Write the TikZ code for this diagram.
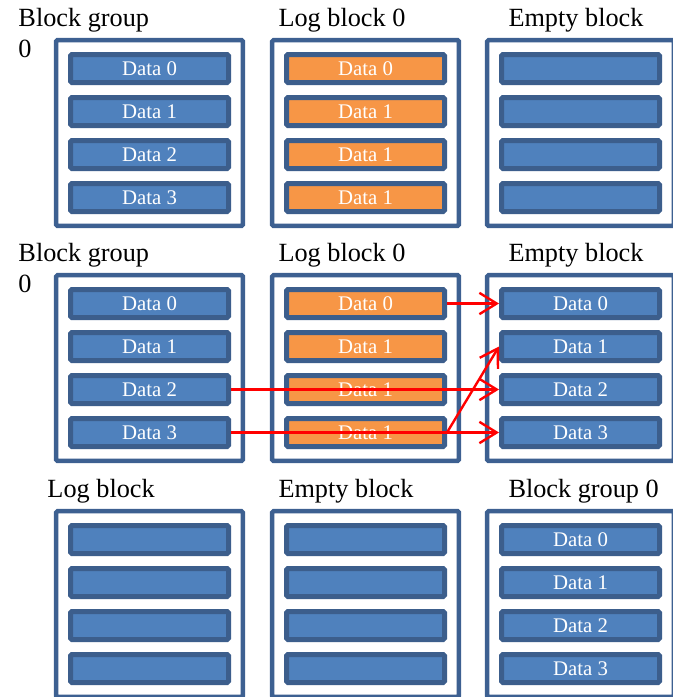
\documentclass[tikz,border=0pt]{standalone}
\usepackage{fontspec}
\setmainfont{Liberation Serif}
\usetikzlibrary{arrows.meta}

\definecolor{framecol}{RGB}{61,96,145}
\definecolor{barline}{RGB}{60,94,140}
\definecolor{barfill}{RGB}{79,129,189}
\definecolor{logfill}{RGB}{247,150,70}
\definecolor{arrowred}{RGB}{255,0,0}

\tikzset{every picture/.style={line width=0.75pt}}

\begin{document}
\begin{tikzpicture}[x=0.75pt,y=0.75pt,yscale=-1,xscale=1,
  frame/.style={draw=framecol,line width=3.4pt,fill=white,rounded corners=1pt,
    minimum width=140pt,minimum height=139.2pt,inner sep=0pt},
  databar/.style={draw=barline,line width=3.75pt,fill=barfill,rounded corners=1pt,
    minimum width=118.5pt,minimum height=21pt,inner sep=0pt,text=white,
    font=\fontsize{15.6}{18}\selectfont},
  logbar/.style={databar,fill=logfill},
  title/.style={anchor=base west,inner sep=0pt,align=left,
    font=\fontsize{19.7}{23.25}\selectfont},
  move/.style={draw=arrowred,line width=1.8pt,-{Straight Barb[length=13pt,width=16pt,line width=1.8pt]}}]
\useasboundingbox (0,0) rectangle (673,697);

% Row 1: before the merge
\node[title] (t11) at (18,57) {Block group\\0};
\node[title] (t12) at (278,26) {Log block 0};
\node[title] (t13) at (508,26) {Empty block};
\node[frame] (f11) at (149.5,133) {};
\node[frame] (f12) at (365.5,133) {};
\node[frame] (f13) at (580.5,133) {};
\foreach \i in {0,1,2,3}
  \node[databar] (r1c1b\i) at (149.5,{68.5+43*\i}) {Data \i};
\foreach \i/\t in {0/0,1/1,2/1,3/1}
  \node[logbar] (r1c2b\i) at (365.5,{68.5+43*\i}) {Data \t};
\foreach \i in {0,1,2,3}
  \node[databar] (r1c3b\i) at (580.5,{68.5+43*\i}) {};

% Row 2: copy into the empty block
\node[title] (t21) at (18,292) {Block group\\0};
\node[title] (t22) at (278,261) {Log block 0};
\node[title] (t23) at (508,261) {Empty block};
\node[frame] (f21) at (149.5,368) {};
\node[frame] (f22) at (365.5,368) {};
\node[frame] (f23) at (580.5,368) {};
\foreach \i in {0,1,2,3}
  \node[databar] (r2c1b\i) at (149.5,{303.5+43*\i}) {Data \i};
\foreach \i/\t in {0/0,1/1,2/1,3/1}
  \node[logbar] (r2c2b\i) at (365.5,{303.5+43*\i}) {Data \t};
\foreach \i in {0,1,2,3}
  \node[databar] (r2c3b\i) at (580.5,{303.5+43*\i}) {Data \i};

% Arrows
\draw[move] (r2c2b0.east) -- (r2c3b0.west);
\draw[move] (r2c2b3.east) -- (r2c3b1.west);
\draw[move] (r2c1b2.east) -- (r2c3b2.west);
\draw[move] (r2c1b3.east) -- (r2c3b3.west);

% Row 3: after the merge
\node[title] (t31) at (47,497) {Log block};
\node[title] (t32) at (278,497) {Empty block};
\node[title] (t33) at (508,497) {Block group 0};
\node[frame] (f31) at (149.5,604) {};
\node[frame] (f32) at (365.5,604) {};
\node[frame] (f33) at (580.5,604) {};
\foreach \i in {0,1,2,3}
  \node[databar] (r3c1b\i) at (149.5,{539.5+43*\i}) {};
\foreach \i in {0,1,2,3}
  \node[databar] (r3c2b\i) at (365.5,{539.5+43*\i}) {};
\foreach \i in {0,1,2,3}
  \node[databar] (r3c3b\i) at (580.5,{539.5+43*\i}) {Data \i};

\end{tikzpicture}
\end{document}
